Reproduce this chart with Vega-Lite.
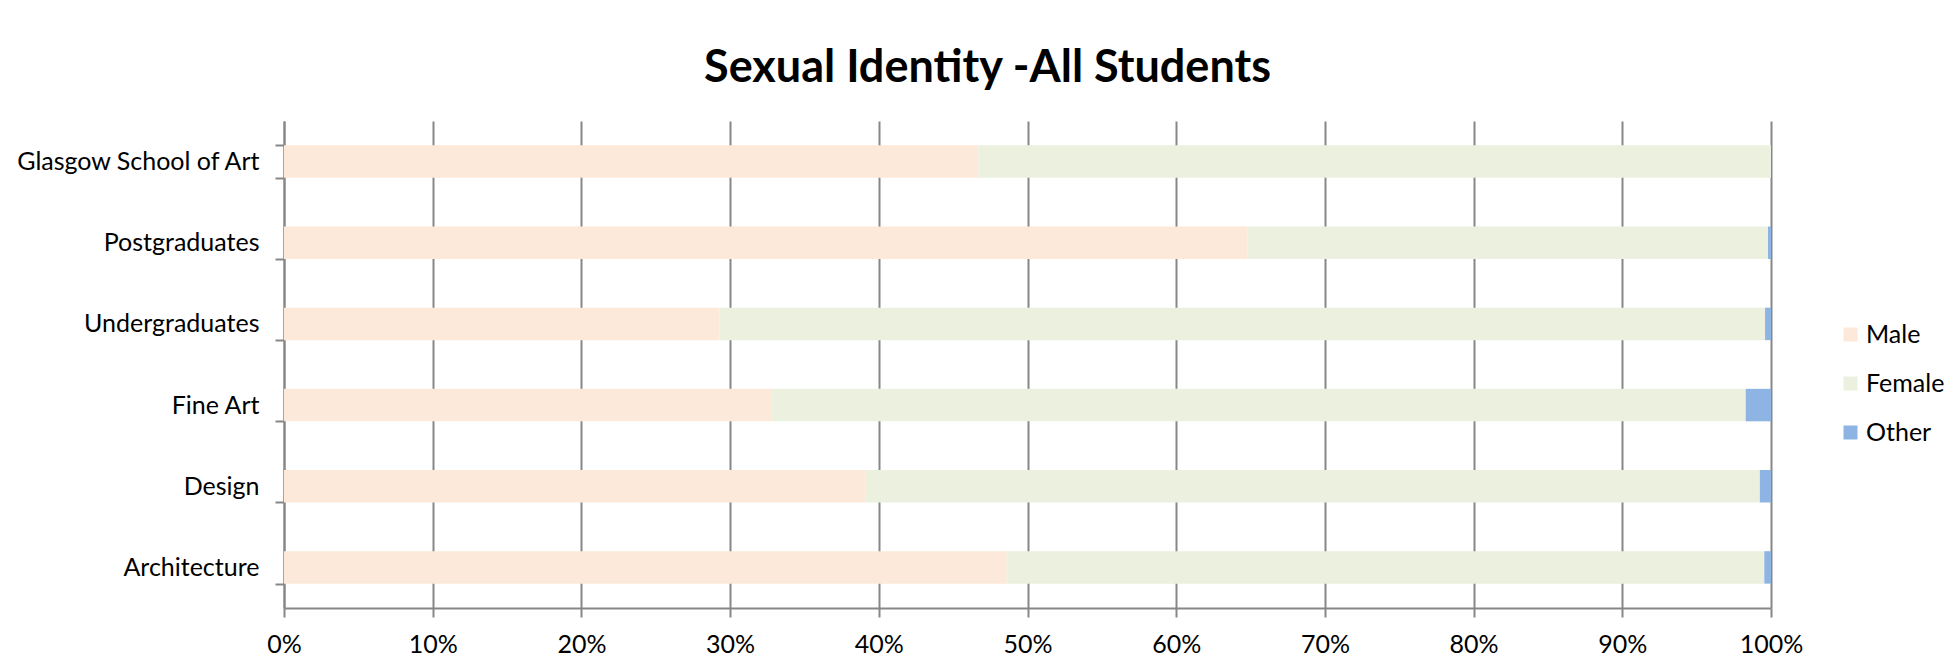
{
  "$schema": "https://vega.github.io/schema/vega-lite/v6.json",
  "autosize": "none",
  "width": 1487,
  "height": 487,
  "padding": {"left": 284, "top": 121, "right": 182, "bottom": 59},
  "background": "white",
  "title": {
    "text": "Sexual Identity -All Students",
    "font": "Lato",
    "fontSize": 45,
    "fontWeight": "bold",
    "color": "black",
    "anchor": "middle",
    "frame": "group",
    "dx": -40,
    "dy": 62,
    "baseline": "alphabetic",
    "offset": 44
  },
  "data": {
    "values": [
      {"group": "Glasgow School of Art", "identity": "Male", "share": 46.7},
      {"group": "Glasgow School of Art", "identity": "Female", "share": 53.3},
      {"group": "Glasgow School of Art", "identity": "Other", "share": 0.0},
      {"group": "Postgraduates", "identity": "Male", "share": 64.8},
      {"group": "Postgraduates", "identity": "Female", "share": 35.0},
      {"group": "Postgraduates", "identity": "Other", "share": 0.2},
      {"group": "Undergraduates", "identity": "Male", "share": 29.3},
      {"group": "Undergraduates", "identity": "Female", "share": 70.3},
      {"group": "Undergraduates", "identity": "Other", "share": 0.4},
      {"group": "Fine Art", "identity": "Male", "share": 32.8},
      {"group": "Fine Art", "identity": "Female", "share": 65.5},
      {"group": "Fine Art", "identity": "Other", "share": 1.7},
      {"group": "Design", "identity": "Male", "share": 39.1},
      {"group": "Design", "identity": "Female", "share": 60.15},
      {"group": "Design", "identity": "Other", "share": 0.75},
      {"group": "Architecture", "identity": "Male", "share": 48.6},
      {"group": "Architecture", "identity": "Female", "share": 50.95},
      {"group": "Architecture", "identity": "Other", "share": 0.45}
    ]
  },
  "transform": [
    {"calculate": "indexof(['Male', 'Female', 'Other'], datum.identity)", "as": "stackOrder"}
  ],
  "mark": {"type": "bar", "strokeWidth": 0},
  "encoding": {
    "y": {
      "field": "group",
      "type": "nominal",
      "sort": ["Glasgow School of Art", "Postgraduates", "Undergraduates", "Fine Art", "Design", "Architecture"],
      "scale": {"paddingInner": 0.6, "paddingOuter": 0.3},
      "axis": {
        "title": null,
        "labelFont": "Lato",
        "labelFontSize": 25,
        "labelColor": "black",
        "labelLimit": 0,
        "domainColor": "#878787",
        "domainWidth": 2,
        "tickColor": "#878787",
        "tickWidth": 2,
        "tickSize": 9,
        "tickBand": "extent",
        "labelPadding": 16,
        "grid": false
      }
    },
    "x": {
      "field": "share",
      "type": "quantitative",
      "stack": "normalize",
      "scale": {"domain": [0, 1], "nice": false},
      "axis": {
        "title": null,
        "format": ".0%",
        "values": [0, 0.1, 0.2, 0.3, 0.4, 0.5, 0.6, 0.7, 0.8, 0.9, 1],
        "labelFont": "Lato",
        "labelFontSize": 25,
        "labelColor": "black",
        "labelPadding": 15,
        "domainColor": "#878787",
        "domainWidth": 2,
        "tickColor": "#878787",
        "tickWidth": 2,
        "tickSize": 9,
        "grid": true,
        "gridColor": "#878787",
        "gridWidth": 2,
        "labelFlush": false
      }
    },
    "order": {"field": "stackOrder", "type": "quantitative", "sort": "ascending"},
    "color": {
      "field": "identity",
      "type": "nominal",
      "sort": ["Male", "Female", "Other"],
      "scale": {"domain": ["Male", "Female", "Other"], "range": ["#FDE9D9", "#EBF1DE", "#8DB4E2"]},
      "legend": {
        "title": null,
        "orient": "none",
        "legendX": 1554,
        "legendY": 201,
        "symbolType": "square",
        "symbolSize": 196,
        "symbolStrokeWidth": 0,
        "labelFont": "Lato",
        "labelFontSize": 25,
        "labelColor": "black",
        "labelOffset": 3,
        "labelLimit": 0,
        "rowPadding": 23
      }
    }
  },
  "config": {
    "view": {"stroke": null}
  }
}
